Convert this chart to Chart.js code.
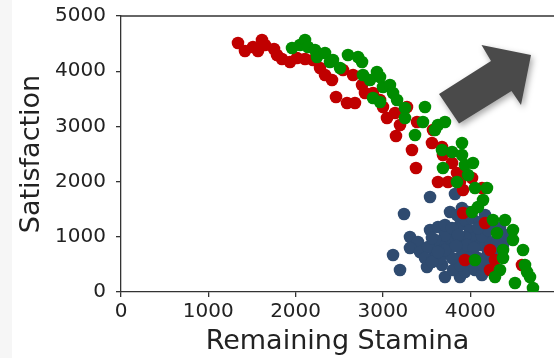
<!DOCTYPE html>
<html>
<head>
<meta charset="utf-8">
<script src="https://cdn.jsdelivr.net/npm/chart.js@4/dist/chart.umd.min.js"></script>
<style>
  html, body { margin: 0; padding: 0; }
  body { width: 554px; height: 358px; overflow: hidden;
         background: linear-gradient(to right, #f6f6f6 0, #f6f6f6 12px, #ffffff 12px); }
  #wrap { position: relative; width: 554px; height: 358px; }
</style>
</head>
<body>
<div id="wrap"><canvas id="c" width="554" height="358"></canvas></div>
<script>
// ---- data ----
const xTitle = "Remaining Stamina";
const yTitle = "Satisfaction";
const xTickValues = [0, 1000, 2000, 3000, 4000];
const yTickValues = [0, 1000, 2000, 3000, 4000, 5000];

const redX = [1340,1420,1512,1569,1615,1649,1753,1787,1844,1936,2016,2108,2199,2280,2337,2417,2463,2589,2680,2543,2658,2761,2795,2887,2967,3001,3047,3139,3276,3150,3196,3391,3333,3379,3562,3574,3677,3688,3792,3849,3631,3746,3883,3918,4021,4135,3918,4170,4227,3940,4284,4227,4593];
const redY = [4511,4366,4438,4366,4565,4475,4402,4293,4221,4167,4239,4221,4203,4058,3931,3841,3533,3424,3424,4022,3931,3750,3605,3605,3478,3351,3152,3243,3351,2826,3025,3080,2572,2246,2699,2935,2627,2482,2337,2156,1993,1993,1993,1848,2065,1884,1431,1250,761,580,580,399,489];

const greenX = [1959,2050,2108,2142,2222,2245,2337,2394,2428,2509,2600,2715,2761,2772,2852,2932,2967,3001,3081,3116,3162,2887,2967,3253,3253,3482,3459,3597,3368,3631,3711,3677,3792,3906,3906,3940,4032,3688,3975,3849,4055,4192,4147,4089,4021,4261,4399,4307,4490,4490,4605,4376,4376,4055,4341,4284,4628,4651,4685,4513,4719];
const greenY = [4420,4475,4565,4438,4384,4257,4330,4167,4203,4058,4293,4257,4167,3931,3841,3986,3895,3714,3750,3605,3478,3514,3442,3333,3152,3351,3080,2935,2844,3025,3080,2572,2536,2699,2482,2301,2337,2246,2120,1993,1884,1884,1667,1540,1449,1304,1304,1069,1123,942,761,761,616,580,399,272,489,362,272,163,72];

const blueX = [3540,3826,3242,3769,3310,3402,3540,3631,3310,3425,3116,3196,3505,3597,3711,3883,3677,3769,3826,3883,3940,3998,4055,4112,4170,4227,4284,4341,3998,3906,3826,3746,3654,4089,4170,3998,3883,3940,4021,4112,3711,3597,3517,3803,3940,4204,4284,4055,4135,3849,4227,4376,3654,3482,3562,
               3711,3792,3860,3963,4044,4135,4204,4307,4250,4147,3998,3883,3792,3711,3631,3562,3838,4089,3975,3906,4170,4341,4399];
const blueY = [1721,1775,1413,1449,996,906,1123,1178,797,725,670,399,453,670,272,272,489,942,1087,1214,1304,1123,978,851,1033,906,1123,978,761,670,580,761,851,616,543,489,851,996,1340,1268,1033,942,815,399,362,725,761,399,308,1395,1214,851,616,616,543,
               1214,1159,1033,851,797,1014,1123,888,670,489,616,489,616,761,725,978,833,1159,1449,1522,1395,1159,1033];

const toPts = (xs, ys) => xs.map((x, i) => ({ x: x, y: ys[i] }));

const axisColor = '#333333';
const textColor = '#222222';

const frame = {
  id: 'frame',
  afterDraw(chart) {
    const { ctx, chartArea } = chart;
    ctx.save();
    // top spine
    ctx.strokeStyle = axisColor;
    ctx.lineWidth = 1.3;
    ctx.beginPath();
    ctx.moveTo(chartArea.left, chartArea.top);
    ctx.lineTo(chart.width, chartArea.top);
    ctx.stroke();
    // decorative block arrow
    ctx.shadowColor = 'rgba(0,0,0,0.35)';
    ctx.shadowBlur = 6;
    ctx.shadowOffsetX = 2;
    ctx.shadowOffsetY = 3;
    ctx.fillStyle = '#4a4a4a';
    ctx.beginPath();
    ctx.moveTo(531, 55);
    ctx.lineTo(521, 105);
    ctx.lineTo(511.5, 91);
    ctx.lineTo(459, 123.5);
    ctx.lineTo(439, 94);
    ctx.lineTo(491, 61);
    ctx.lineTo(481.5, 45);
    ctx.closePath();
    ctx.fill();
    ctx.restore();
  }
};

new Chart(document.getElementById('c'), {
  type: 'scatter',
  data: {
    datasets: [
      { label: 'green', data: toPts(greenX, greenY), backgroundColor: '#008c00', order: 0 },
      { label: 'red', data: toPts(redX, redY), backgroundColor: '#c00000', order: 1 },
      { label: 'blue', data: toPts(blueX, blueY), backgroundColor: '#2f4b70', order: 2 }
    ]
  },
  options: {
    responsive: false,
    animation: false,
    devicePixelRatio: 1,
    layout: { autoPadding: false, padding: { top: 16, right: 0, left: 0, bottom: 0 } },
    elements: { point: { radius: 6.3, borderWidth: 0, hoverRadius: 6.3 } },
    plugins: { legend: { display: false }, tooltip: { enabled: false } },
    scales: {
      x: {
        type: 'linear', min: 0, max: 4960,
        afterBuildTicks: (ax) => { ax.ticks = xTickValues.map(v => ({ value: v })); },
        afterFit: (ax) => { ax.height = 66; ax.paddingLeft = 0; ax.paddingRight = 0; },
        grid: { drawOnChartArea: false, drawTicks: true, tickLength: 5, color: axisColor, lineWidth: 1.3 },
        border: { display: true, color: axisColor, width: 1.3 },
        ticks: { color: textColor, font: { family: 'DejaVu Sans', size: 20 }, padding: 3, maxRotation: 0, autoSkip: false,
                 callback: (v) => String(v) },
        title: { display: true, text: xTitle, color: textColor, font: { family: 'DejaVu Sans', size: 27 }, padding: { top: 0, bottom: 0 } }
      },
      y: {
        type: 'linear', min: 0, max: 5000,
        afterBuildTicks: (ax) => { ax.ticks = yTickValues.map(v => ({ value: v })); },
        afterFit: (ax) => { ax.width = 121; ax.paddingTop = 0; ax.paddingBottom = 0; },
        grid: { drawOnChartArea: false, drawTicks: true, tickLength: 5, color: axisColor, lineWidth: 1.3 },
        border: { display: true, color: axisColor, width: 1.3 },
        ticks: { color: textColor, font: { family: 'DejaVu Sans', size: 20 }, padding: 10, autoSkip: false,
                 callback: (v) => String(v) },
        title: { display: true, text: yTitle, color: textColor, font: { family: 'DejaVu Sans', size: 27 }, padding: { top: 16, bottom: 0 } }
      }
    }
  },
  plugins: [frame]
});
</script>
</body>
</html>
